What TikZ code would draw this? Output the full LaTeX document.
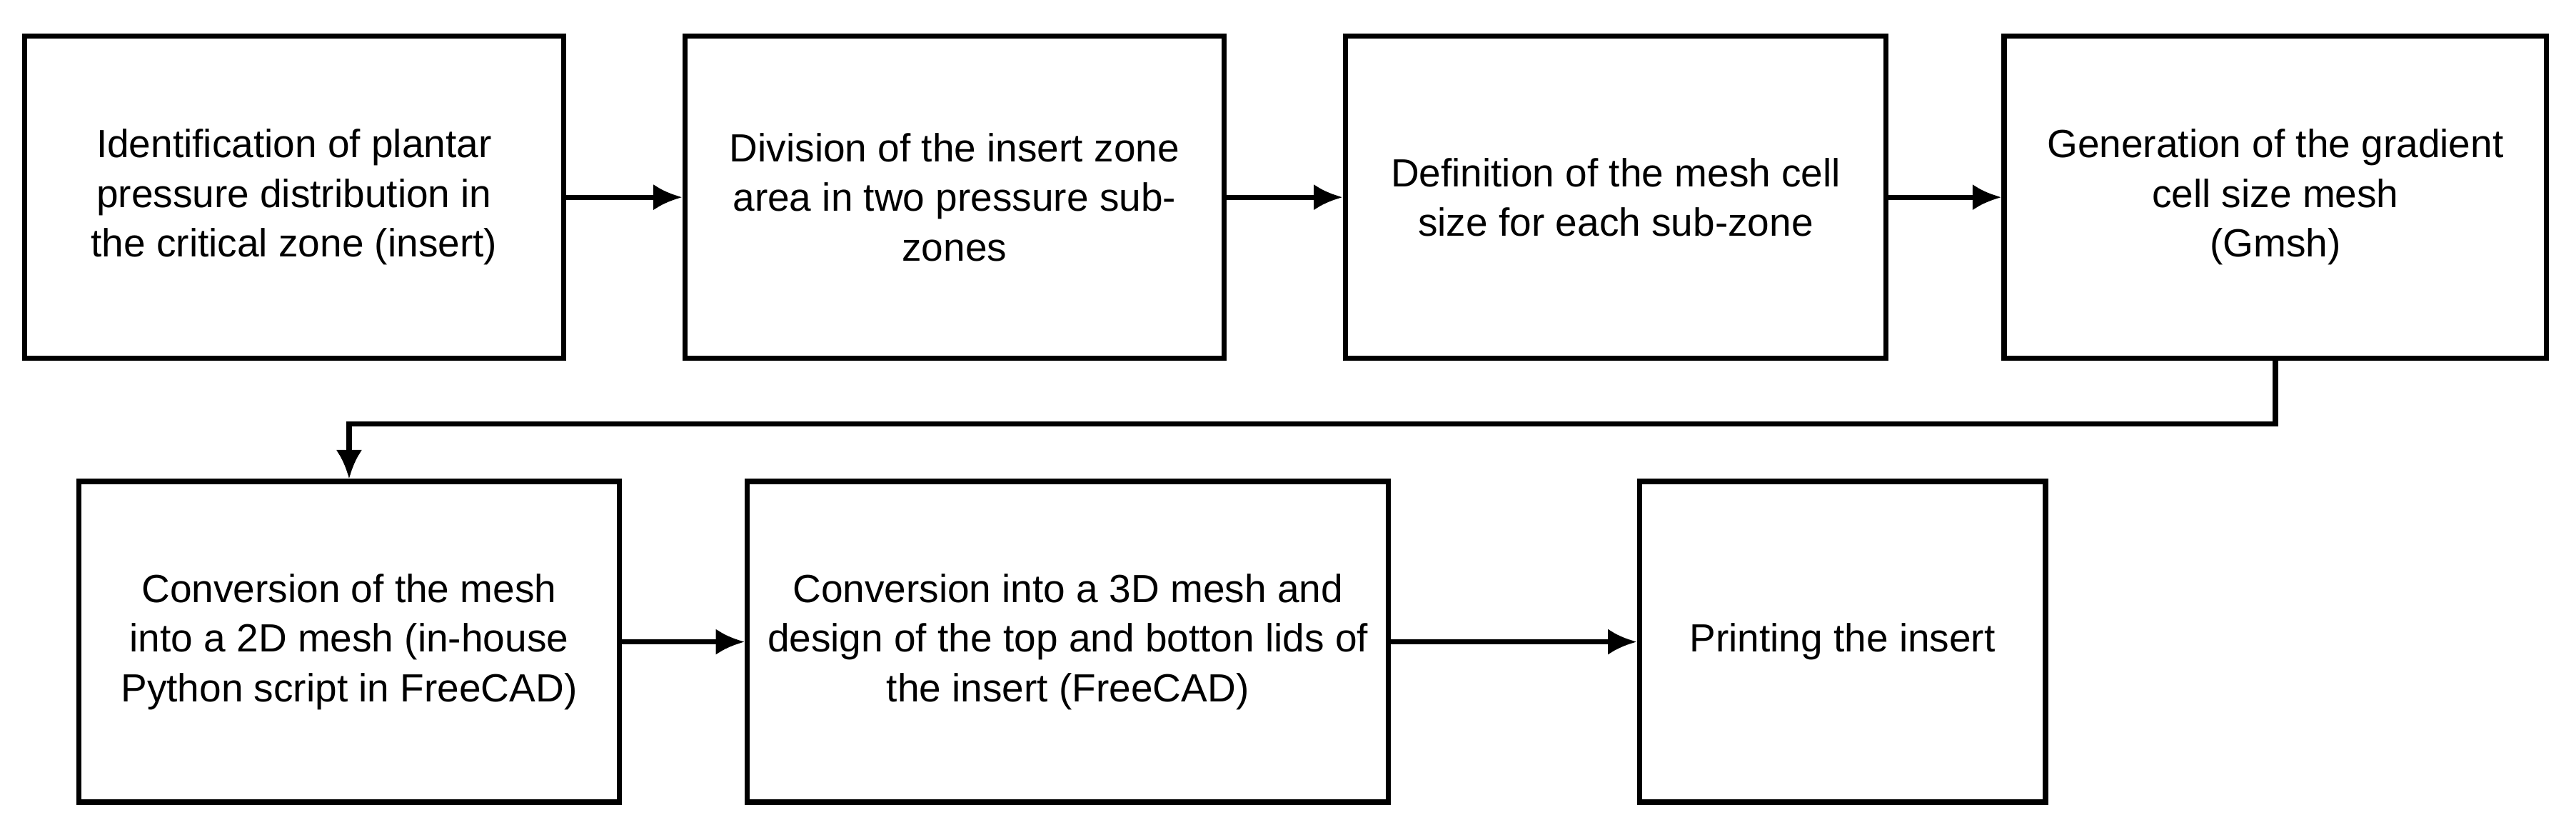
\documentclass[tikz,border=0pt]{standalone}
\usepackage{fontspec}
\setmainfont{Liberation Sans}
\usetikzlibrary{arrows.meta}
\begin{document}
\begin{tikzpicture}[x=0.01cm,y=-0.01cm,
  box/.style={draw,line width=0.9pt,inner sep=0pt,align=center,font=\fontsize{6.8}{8.6}\selectfont},
  arr/.style={line width=0.9pt,-{Latex[length=5pt,width=4.5pt]}}]
\useasboundingbox (0,0) rectangle (1568,508);
\node[box,minimum width=3.28cm,minimum height=1.96cm] (b1) at (179,120) {Identification of plantar\\pressure distribution in\\the critical zone (insert)};
\node[box,minimum width=3.28cm,minimum height=1.96cm] (b2) at (581,120) {Division of the insert zone\\area in two pressure sub-\\zones};
\node[box,minimum width=3.29cm,minimum height=1.96cm] (b3) at (983.5,120) {Definition of the mesh cell\\size for each sub-zone};
\node[box,minimum width=3.30cm,minimum height=1.96cm] (b4) at (1385,120) {Generation of the gradient\\cell size mesh\\(Gmsh)};
\node[box,minimum width=3.29cm,minimum height=1.95cm] (b5) at (212.5,390.5) {Conversion of the mesh\\into a 2D mesh (in-house\\Python script in FreeCAD)};
\node[box,minimum width=3.90cm,minimum height=1.95cm] (b6) at (650,390.5) {Conversion into a 3D mesh and\\design of the top and botton lids of\\the insert (FreeCAD)};
\node[box,minimum width=2.47cm,minimum height=1.95cm] (b7) at (1121.5,390.5) {Printing the insert};
\draw[arr] (b1) -- (b2);
\draw[arr] (b2) -- (b3);
\draw[arr] (b3) -- (b4);
\draw[arr] (b5) -- (b6);
\draw[arr] (b6) -- (b7);
\coordinate (t1) at (b4.south |- 0,258);
\draw[arr] (b4.south) -- (t1) -- (b5.north |- 0,258) -- (b5.north);
\end{tikzpicture}
\end{document}
